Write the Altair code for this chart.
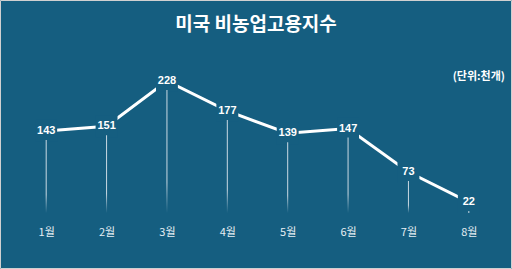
import altair as alt
import pandas as pd

months = ["1월", "2월", "3월", "4월", "5월", "6월", "7월", "8월"]
values = [143, 151, 228, 177, 139, 147, 73, 22]
title_text = "미국 비농업고용지수"
unit_text = "(단위:천개)"

BG = "#155e80"
W, H = 483, 147
PAD = {"left": 16, "top": 68, "right": 13, "bottom": 54}

df = pd.DataFrame({"month": months, "value": values})

x = alt.X("month:N", sort=months, scale=alt.Scale(type="point", padding=0.5),
          axis=alt.Axis(title=None, ticks=False, domain=False, grid=False,
                        labelAngle=0, labelPadding=11, labelFontSize=11,
                        labelColor="#e6eef3", labelFont="Noto Sans CJK KR"))
y = alt.Y("value:Q", scale=alt.Scale(domain=[0, 250], nice=False, zero=True),
          axis=None)

base = alt.Chart(df).encode(x=x, y=y)

line = base.mark_line(color="white", strokeWidth=3)
cover = base.mark_square(size=480, color=BG, opacity=1)
drops = base.mark_bar(
    size=1, yOffset=9, y2Offset=-2,
    color=alt.Gradient(gradient="linear", x1=0, x2=0, y1=0, y2=1,
                       stops=[alt.GradientStop(offset=0, color="#c9d9e3"),
                              alt.GradientStop(offset=0.75, color="#c9d9e3"),
                              alt.GradientStop(offset=1, color=BG)])
).encode(y2=alt.datum(0))
labels = base.mark_text(color="white", fontSize=11, fontWeight="bold",
                        font="Liberation Sans", baseline="middle").encode(
    text="value:Q")

unit = alt.Chart(pd.DataFrame({"t": [unit_text]})).mark_text(
    color="white", fontSize=11, fontWeight="bold", font="Noto Sans CJK KR",
    align="right", baseline="middle").encode(
    text="t:N", x=alt.value(W + 6), y=alt.value(9))

title = alt.Chart(pd.DataFrame({"t": [title_text]})).mark_text(
    color="white", fontSize=19, fontWeight="bold", font="Noto Sans CJK KR",
    align="center", baseline="middle").encode(
    text="t:N", x=alt.value(256 - PAD["left"]), y=alt.value(25 - PAD["top"]))

border = alt.Chart(pd.DataFrame({"t": [0]})).mark_rect(
    fill=None, stroke="#d0d0d0", strokeWidth=1).encode(
    x=alt.value(-PAD["left"] + 0.5), x2=alt.value(W + PAD["right"] - 0.5),
    y=alt.value(-PAD["top"] + 0.5), y2=alt.value(H + PAD["bottom"] - 0.5))

chart = alt.layer(line, cover, drops, labels, unit, title, border).properties(
    width=W, height=H,
    autosize=alt.AutoSizeParams(type="none"),
    padding=PAD,
    background=BG,
).configure_view(stroke=None)

chart.save("out.html", embed_options={"renderer": "svg", "actions": False})
